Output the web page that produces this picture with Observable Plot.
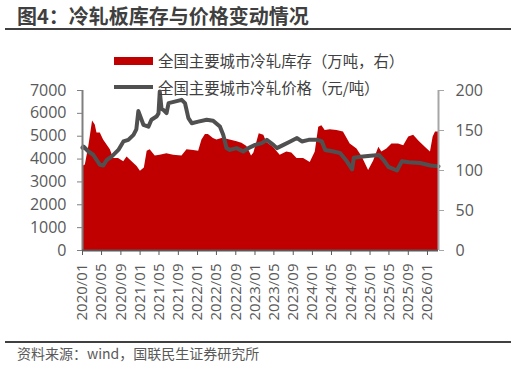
<!DOCTYPE html>
<html>
<head>
<meta charset="utf-8">
<script src="https://cdn.jsdelivr.net/npm/d3@7"></script>
<script src="https://cdn.jsdelivr.net/npm/@observablehq/plot@0.6"></script>
<style>
  html, body { margin: 0; padding: 0; background: #fff; }
  #wrap { position: relative; width: 516px; height: 369px; overflow: hidden; font-family: "Noto Sans CJK SC", "Noto Sans", sans-serif; }
  #title { position: absolute; left: 17px; top: 3px; font-size: 20px; font-weight: bold; color: #3f3f3f; white-space: nowrap; line-height: 26px; }
  #tline { position: absolute; left: 5px; top: 28px; width: 506px; height: 2px; background: #404040; }
  .leg { position: absolute; left: 158px; font-size: 15.4px; color: #404040; white-space: nowrap; line-height: 20px; }
  #leg1 { top: 50px; }
  #leg2 { top: 77px; }
  #sw1 { position: absolute; left: 114px; top: 57px; width: 39px; height: 8px; background: #C00000; }
  #sw2 { position: absolute; left: 114px; top: 85px; width: 39px; height: 4px; background: #505050; }
  #fline { position: absolute; left: 5px; top: 341px; width: 506px; height: 2px; background: #404040; }
  #foot { position: absolute; left: 17px; top: 344px; font-size: 14px; color: #595959; white-space: nowrap; line-height: 18px; }
  #chart { position: absolute; left: 0; top: 0; }
</style>
</head>
<body>
<div id="wrap">
  <div id="chart"></div>
  <div id="title">图4：冷轧板库存与价格变动情况</div>
  <div id="tline"></div>
  <div id="sw1"></div><div class="leg" id="leg1">全国主要城市冷轧库存（万吨，右）</div>
  <div id="sw2"></div><div class="leg" id="leg2">全国主要城市冷轧价格（元/吨）</div>
  <div id="fline"></div>
  <div id="foot">资料来源：wind，国联民生证券研究所</div>
</div>
<script>
const inventoryDates = ["2020-01-01","2020-01-19","2020-02-10","2020-03-05","2020-03-22","2020-04-02","2020-04-23","2020-05-14","2020-06-05","2020-06-26","2020-07-16","2020-08-17","2020-09-19","2020-10-10","2020-11-11","2020-12-13","2021-01-03","2021-01-28","2021-02-15","2021-03-06","2021-04-07","2021-05-08","2021-06-20","2021-08-02","2021-09-24","2021-10-26","2021-12-07","2022-01-08","2022-01-29","2022-02-20","2022-03-11","2022-04-12","2022-05-04","2022-06-05","2022-07-06","2022-07-27","2022-09-09","2022-10-10","2022-11-11","2022-12-10","2022-12-25","2023-01-28","2023-02-26","2023-03-17","2023-04-28","2023-06-10","2023-07-22","2023-08-23","2023-09-25","2023-11-06","2023-12-18","2024-01-19","2024-02-10","2024-03-01","2024-03-22","2024-04-23","2024-06-05","2024-07-16","2024-08-28","2024-10-10","2024-11-12","2024-12-23","2025-01-24","2025-02-26","2025-03-17","2025-04-18","2025-05-20","2025-07-01","2025-08-03","2025-09-04","2025-10-05","2025-11-07","2025-12-18","2026-01-20","2026-02-06","2026-02-21","2026-03-12"];
const inventoryValues = [105,107,130,162,157,147,147,138,132,126,115,115,111,117,111,105,99,103,124,126,118,119,121,119,118,126,125,124,138,145,145,140,138,140,139,138,136,134,130,118,122,146,144,135,129,119,123,122,115,115,110,123,154,156,150,151,150,148,133,127,117,100,112,129,123,127,133,133,131,142,144,137,129,123,142,148,148];

const priceDates = ["2020-01-01","2020-01-07","2020-02-08","2020-03-09","2020-03-30","2020-04-21","2020-05-12","2020-06-02","2020-07-04","2020-08-16","2020-09-17","2020-10-18","2020-11-20","2020-12-08","2020-12-21","2021-01-22","2021-02-23","2021-03-14","2021-04-15","2021-04-28","2021-05-06","2021-05-17","2021-05-27","2021-06-18","2021-07-01","2021-09-22","2021-10-13","2021-11-04","2021-11-25","2022-01-06","2022-02-28","2022-04-10","2022-05-23","2022-06-13","2022-07-04","2022-07-25","2022-09-06","2022-10-18","2022-11-20","2023-01-02","2023-02-13","2023-03-17","2023-04-28","2023-05-20","2023-07-01","2023-08-13","2023-09-25","2023-10-26","2023-12-08","2024-02-01","2024-03-01","2024-03-22","2024-05-14","2024-06-26","2024-08-08","2024-09-09","2024-09-20","2024-11-01","2025-01-04","2025-02-26","2025-03-27","2025-04-28","2025-06-21","2025-07-22","2025-09-04","2025-11-17","2026-01-20","2026-03-12"];
const priceValues = [4500,4550,4330,4190,3970,3750,3720,3950,4110,4400,4770,4840,5060,5300,6100,5500,5420,5720,5860,6000,6960,6200,6160,6010,6450,6590,6450,5790,5570,5640,5720,5680,5420,5060,4480,4400,4480,4330,4480,4620,4700,4840,4620,4480,4620,4770,4920,4770,4840,4840,4770,4400,4330,4260,3890,3550,4060,4100,4150,4180,3970,3660,3500,3900,3860,3830,3720,3680];

const xTickLabels = ["2020/01","2020/05","2020/09","2021/01","2021/05","2021/09","2022/01","2022/05","2022/09","2023/01","2023/05","2023/09","2024/01","2024/05","2024/09","2025/01","2025/05","2025/09","2026/01"];
const leftTicks = [0,1000,2000,3000,4000,5000,6000,7000];
const rightTicks = [0,50,100,150,200];

const leftMax = 7000, rightMax = 200, k = leftMax / rightMax;
const parseDate = d3.utcParse("%Y-%m-%d");
const parseTick = d3.utcParse("%Y/%m");
const inventory = inventoryDates.map((d, i) => ({date: parseDate(d), v: inventoryValues[i]}));
const price = priceDates.map((d, i) => ({date: parseDate(d), v: priceValues[i]}));
const x0 = parseDate("2020-01-01"), x1 = parseDate("2026-03-12");

const chart = Plot.plot({
  width: 516, height: 369,
  marginLeft: 82, marginRight: 78, marginTop: 90, marginBottom: 119,
  style: {fontFamily: "'Open Sans', 'Noto Sans', sans-serif", color: "#595959", background: "transparent", overflow: "visible"},
  x: {type: "utc", domain: [x0, x1]},
  y: {domain: [0, leftMax]},
  marks: [
    Plot.areaY(inventory, {x: "date", y: d => d.v * k, fill: "#C00000"}),
    Plot.lineY(price, {x: "date", y: "v", stroke: "#505050", strokeWidth: 4, strokeLinejoin: "round"}),
    Plot.ruleX([x0], {y1: 0, y2: leftMax, stroke: "#7f7f7f", strokeWidth: 2}),
    Plot.ruleX([x1], {y1: 0, y2: leftMax, stroke: "#a6a6a6", strokeWidth: 2}),
    Plot.ruleY([0], {stroke: "#595959", strokeWidth: 2}),
    Plot.axisY({anchor: "left", ticks: leftTicks, tickFormat: d => String(d), tickSize: 5, tickPadding: 11, fontSize: 16, stroke: "#7f7f7f", fill: "#595959", label: null}),
    Plot.axisY({anchor: "right", ticks: rightTicks.map(t => t * k), tickFormat: d => String(Math.round(d / k)), tickSize: 5, tickPadding: 12, fontSize: 16, stroke: "#a6a6a6", fill: "#595959", label: null}),
    Plot.axisX({ticks: xTickLabels.map(t => parseTick(t)), tickFormat: d3.utcFormat("%Y/%m"), tickRotate: -90, tickSize: 5, tickPadding: 8, fontSize: 15, stroke: "#595959", fill: "#595959", label: null})
  ]
});
document.getElementById("chart").appendChild(chart);
</script>
</body>
</html>
